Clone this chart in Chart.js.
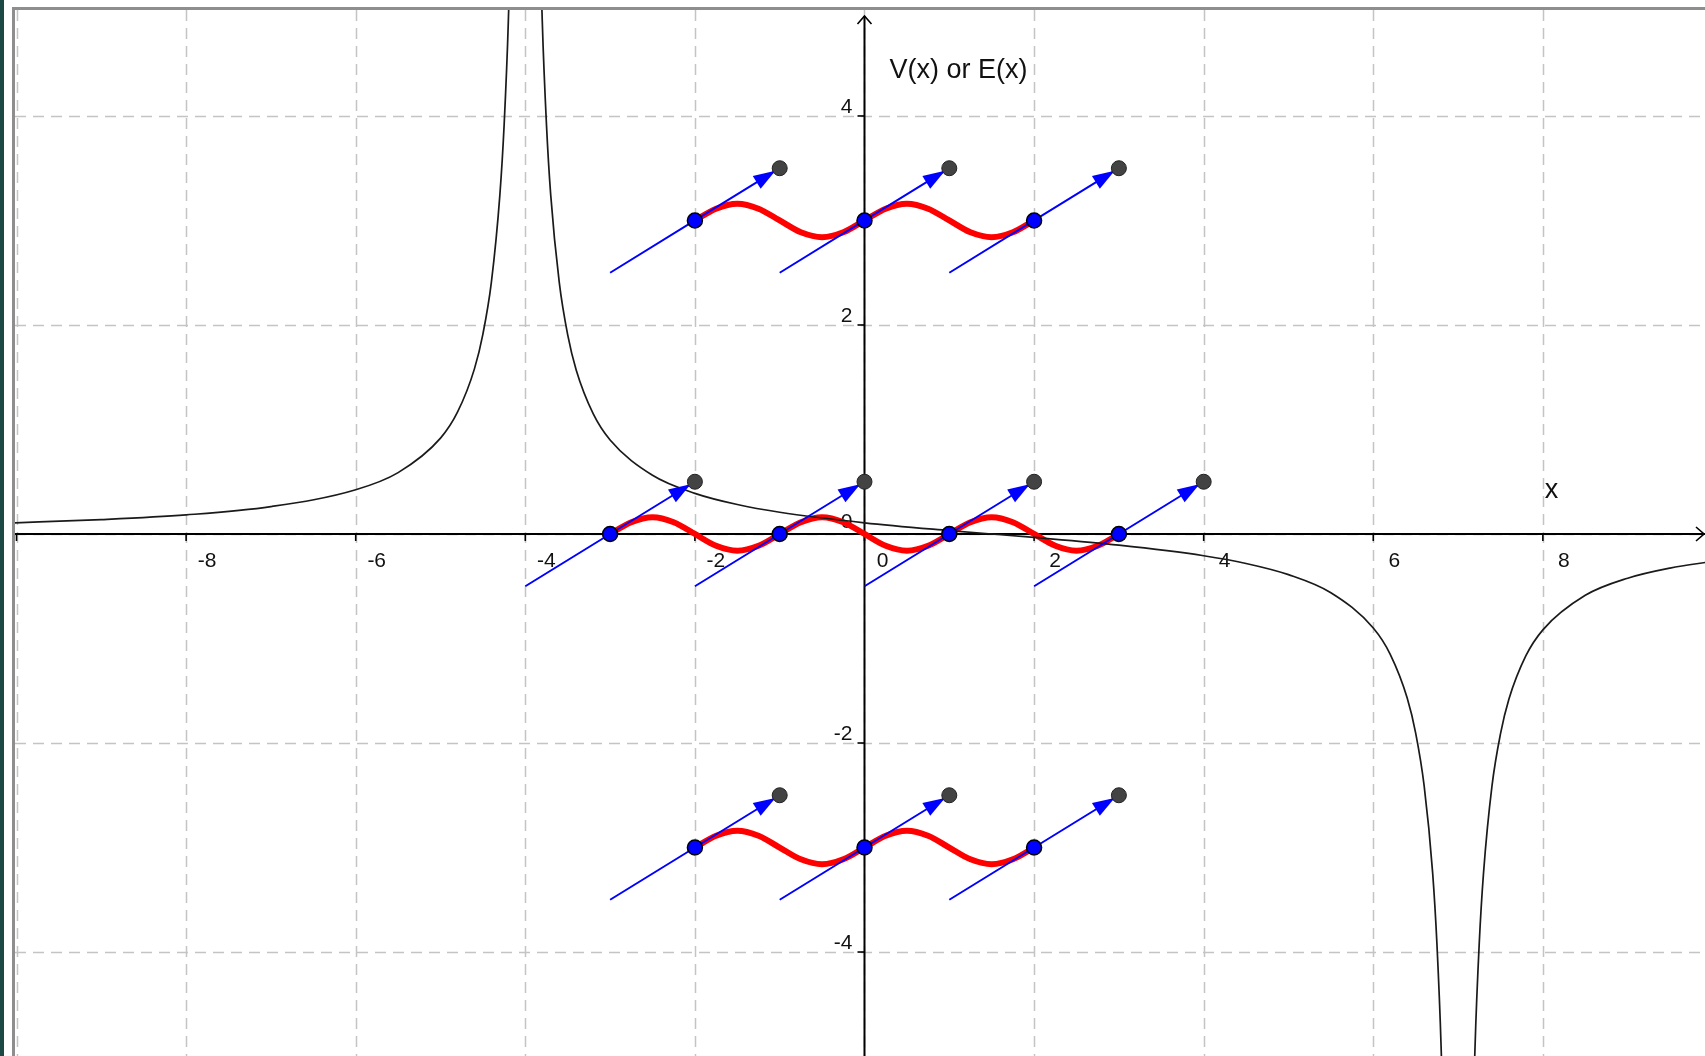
<!DOCTYPE html>
<html>
<head>
<meta charset="utf-8">
<title>V(x) or E(x)</title>
<script src="https://cdn.jsdelivr.net/npm/chart.js@4.4.1/dist/chart.umd.min.js"></script>
<style>
  html, body { margin: 0; padding: 0; background: #fff; overflow: hidden; }
  body { width: 1705px; height: 1056px; position: relative; }
  #edge { position: absolute; left: 0; top: 0; width: 4px; height: 1056px; background: #1d4944; }
  #frame { position: absolute; left: 12px; top: 7px; width: 1693px; height: 1049px;
           border-left: 3px solid #8e8e8e; border-top: 3px solid #8e8e8e; box-sizing: border-box; }
  #plot { position: absolute; left: 15px; top: 10px; width: 1690px; height: 1046px; }
</style>
</head>
<body>
<div id="edge"></div>
<div id="frame"></div>
<div id="plot"><canvas id="graph"></canvas></div>
<script>
// view window
const X_MIN = -10.018, X_MAX = 9.912;
const Y_MIN = -4.995, Y_MAX = 5.014;

// grid + tick labels
const gridX = [-10, -8, -6, -4, -2, 0, 2, 4, 6, 8];
const gridY = [-4, -2, 0, 2, 4];
const xTickVals = [-8, -6, -4, -2, 0, 2, 4, 6, 8];
const xTickLabels = ['-8', '-6', '-4', '-2', '0', '2', '4', '6', '8'];
const yTickVals = [-4, -2, 0, 2, 4];
const yTickLabels = ['-4', '-2', '0', '2', '4'];

// V(x) curve (null = break at the asymptotes)
const vX = [-10.1, -9, -8, -7, -6, -5.5, -5, -4.8, -4.6, -4.5, -4.4, -4.3, -4.25, -4.2, -4.15, -4.1,
            -4,
            -3.9, -3.85, -3.8, -3.75, -3.7, -3.6, -3.5, -3.4, -3.2, -3, -2.5, -2, -1.5, -1, 0, 1, 2, 3, 4, 4.5,
            5, 5.5, 6, 6.2, 6.4, 6.5, 6.6, 6.7, 6.75, 6.8, 6.85, 6.9,
            7,
            7.1, 7.15, 7.2, 7.25, 7.3, 7.4, 7.5, 7.6, 7.8, 8, 8.5, 9, 9.5, 10];
const vY = [0.105, 0.138, 0.183, 0.262, 0.423, 0.587, 0.917, 1.165, 1.58, 1.913, 2.41, 3.245, 3.91, 4.91, 6.58, 9.91,
            null,
            9.91, 6.57, 4.91, 3.91, 3.24, 2.41, 1.905, 1.57, 1.152, 0.9, 0.562, 0.389, 0.282, 0.208, 0.107, 0.033, -0.033, -0.107, -0.208, -0.282,
            -0.389, -0.562, -0.9, -1.152, -1.57, -1.905, -2.41, -3.24, -3.91, -4.91, -6.57, -9.91,
            null,
            -9.91, -6.58, -4.91, -3.91, -3.245, -2.41, -1.913, -1.58, -1.165, -0.917, -0.587, -0.423, -0.326, -0.262];

// lattice sites (blue), vector tips (grey), line tails
const siteX = [-2, 0, 2, -3, -1, 1, 3, -2, 0, 2];
const siteY = [3, 3, 3, 0, 0, 0, 0, -3, -3, -3];
const tipX  = [-1, 1, 3, -2, 0, 2, 4, -1, 1, 3];
const tipY  = [3.5, 3.5, 3.5, 0.5, 0.5, 0.5, 0.5, -2.5, -2.5, -2.5];
const tailX = [-3, -1, 1, -4, -2, 0, 2, -3, -1, 1];
const tailY = [2.5, 2.5, 2.5, -0.5, -0.5, -0.5, -0.5, -3.5, -3.5, -3.5];

// red waves
const wave1X = [-2, -1.75, -1.5, -1.25, -1, -0.75, -0.5, -0.25, 0, 0.25, 0.5, 0.75, 1, 1.25, 1.5, 1.75, 2];
const wave1Y = [3, 3.113, 3.16, 3.113, 3, 2.887, 2.84, 2.887, 3, 3.113, 3.16, 3.113, 3, 2.887, 2.84, 2.887, 3];
const wave2X = [-3, -2.75, -2.5, -2.25, -2, -1.75, -1.5, -1.25, -1, -0.75, -0.5, -0.25, 0,
                0.25, 0.5, 0.75, 1, 1.25, 1.5, 1.75, 2, 2.25, 2.5, 2.75, 3];
const wave2Y = [0, 0.113, 0.16, 0.113, 0, -0.113, -0.16, -0.113, 0, 0.113, 0.16, 0.113, 0,
                -0.113, -0.16, -0.113, 0, 0.113, 0.16, 0.113, 0, -0.113, -0.16, -0.113, 0];
const wave3X = [-2, -1.75, -1.5, -1.25, -1, -0.75, -0.5, -0.25, 0, 0.25, 0.5, 0.75, 1, 1.25, 1.5, 1.75, 2];
const wave3Y = [-3, -2.887, -2.84, -2.887, -3, -3.113, -3.16, -3.113, -3, -2.887, -2.84, -2.887, -3, -3.113, -3.16, -3.113, -3];

const pts = (xs, ys) => xs.map((x, i) => ({ x, y: ys[i] }));

const blueLines = [];
siteX.forEach((sx, i) => {
    blueLines.push({ x: tailX[i], y: tailY[i] }, { x: sx, y: siteY[i] }, { x: tipX[i], y: tipY[i] }, { x: tipX[i], y: null });
});

const FONT = '"Liberation Sans", Arial, sans-serif';

// dashed grid, axes, ticks and labels
const gridAxes = {
    id: 'gridAxes',
    beforeDatasetsDraw(chart) {
        const { ctx, chartArea: a, scales: { x, y } } = chart;
        const x0 = x.getPixelForValue(0), y0 = y.getPixelForValue(0);
        ctx.save();
        ctx.strokeStyle = '#c4c4c4';
        ctx.lineWidth = 1.5;
        ctx.setLineDash([11, 7]);
        gridX.forEach(v => {
            const px = Math.round(x.getPixelForValue(v)) + 0.5;
            ctx.beginPath(); ctx.moveTo(px, a.top); ctx.lineTo(px, a.bottom); ctx.stroke();
        });
        gridY.forEach(v => {
            const py = Math.round(y.getPixelForValue(v)) + 0.5;
            ctx.beginPath(); ctx.moveTo(a.left, py); ctx.lineTo(a.right, py); ctx.stroke();
        });
        ctx.setLineDash([]);

        // axes
        ctx.strokeStyle = '#000';
        ctx.lineWidth = 2;
        ctx.beginPath(); ctx.moveTo(a.left, y0); ctx.lineTo(a.right, y0); ctx.stroke();
        const yTop = a.top + 6;
        ctx.beginPath(); ctx.moveTo(x0, a.bottom); ctx.lineTo(x0, yTop); ctx.stroke();
        ctx.lineWidth = 1.6;
        ctx.beginPath(); ctx.moveTo(x0 - 7, yTop + 8); ctx.lineTo(x0, yTop); ctx.lineTo(x0 + 7, yTop + 8); ctx.stroke();
        const xEnd = a.right - 1;
        ctx.beginPath(); ctx.moveTo(xEnd - 8, y0 - 7); ctx.lineTo(xEnd, y0); ctx.lineTo(xEnd - 8, y0 + 7); ctx.stroke();

        // tick marks
        ctx.lineWidth = 1.6;
        gridX.forEach(v => {
            const px = x.getPixelForValue(v);
            ctx.beginPath(); ctx.moveTo(px, y0); ctx.lineTo(px, y0 + 7); ctx.stroke();
        });
        gridY.forEach(v => {
            const py = y.getPixelForValue(v);
            ctx.beginPath(); ctx.moveTo(x0 - 7, py); ctx.lineTo(x0, py); ctx.stroke();
        });

        // tick labels
        ctx.fillStyle = '#111';
        ctx.font = '21px ' + FONT;
        ctx.textAlign = 'center';
        ctx.textBaseline = 'alphabetic';
        xTickVals.forEach((v, i) => {
            ctx.fillText(xTickLabels[i], x.getPixelForValue(v) + (v === 0 ? 18 : 21), y0 + 33);
        });
        ctx.textAlign = 'right';
        yTickVals.forEach((v, i) => {
            ctx.fillText(yTickLabels[i], x0 - 12, y.getPixelForValue(v) - (v === 0 ? 6 : 3));
        });

        // axis titles
        ctx.font = '27px ' + FONT;
        ctx.textAlign = 'left';
        ctx.fillText('V(x) or E(x)', x0 + 25, a.top + 68);
        ctx.fillText('x', x.getPixelForValue(8) + 2, y0 - 36);
        ctx.restore();
    }
};

// arrow heads on the blue vectors
const arrowHeads = {
    id: 'arrowHeads',
    afterDatasetDraw(chart, args) {
        if (args.index !== 2) return;
        const { ctx, scales: { x, y } } = chart;
        ctx.save();
        ctx.fillStyle = '#0000ff';
        siteX.forEach((sx, i) => {
            const ax = x.getPixelForValue(sx), ay = y.getPixelForValue(siteY[i]);
            const bx = x.getPixelForValue(tipX[i]), by = y.getPixelForValue(tipY[i]);
            const ang = Math.atan2(by - ay, bx - ax);
            const len = 22, half = 7.5;
            const tx = bx - Math.cos(ang) * 5, ty = by - Math.sin(ang) * 5;
            const cx = tx - Math.cos(ang) * len, cy = ty - Math.sin(ang) * len;
            ctx.beginPath();
            ctx.moveTo(tx, ty);
            ctx.lineTo(cx - Math.sin(ang) * half, cy + Math.cos(ang) * half);
            ctx.lineTo(cx + Math.sin(ang) * half, cy - Math.cos(ang) * half);
            ctx.closePath();
            ctx.fill();
        });
        ctx.restore();
    }
};

const redWave = (data) => ({
    data, showLine: true, borderColor: '#ff0000', borderWidth: 6, pointRadius: 0,
    cubicInterpolationMode: 'monotone', order: 3, borderCapStyle: 'round'
});

new Chart(document.getElementById('graph'), {
    type: 'scatter',
    data: {
        datasets: [
            { data: pts(tipX, tipY), pointRadius: 7.5, pointBackgroundColor: '#434343', pointBorderColor: '#222', pointBorderWidth: 1, order: 0 },
            { data: pts(siteX, siteY), pointRadius: 7.5, pointBackgroundColor: '#0000ff', pointBorderColor: '#000', pointBorderWidth: 1.5, order: 0 },
            { data: blueLines, showLine: true, spanGaps: false, borderColor: '#0000ff', borderWidth: 2, pointRadius: 0, order: 1 },
            { data: pts(vX, vY), showLine: true, spanGaps: false, borderColor: '#1a1a1a', borderWidth: 1.7, pointRadius: 0,
              cubicInterpolationMode: 'monotone', order: 2 },
            redWave(pts(wave1X, wave1Y)),
            redWave(pts(wave2X, wave2Y)),
            redWave(pts(wave3X, wave3Y))
        ]
    },
    options: {
        responsive: true,
        maintainAspectRatio: false,
        animation: false,
        layout: { padding: 0, autoPadding: false },
        plugins: { legend: { display: false }, tooltip: { enabled: false } },
        scales: {
            x: { type: 'linear', min: X_MIN, max: X_MAX, display: false },
            y: { type: 'linear', min: Y_MIN, max: Y_MAX, display: false }
        }
    },
    plugins: [gridAxes, arrowHeads]
});
</script>
</body>
</html>
